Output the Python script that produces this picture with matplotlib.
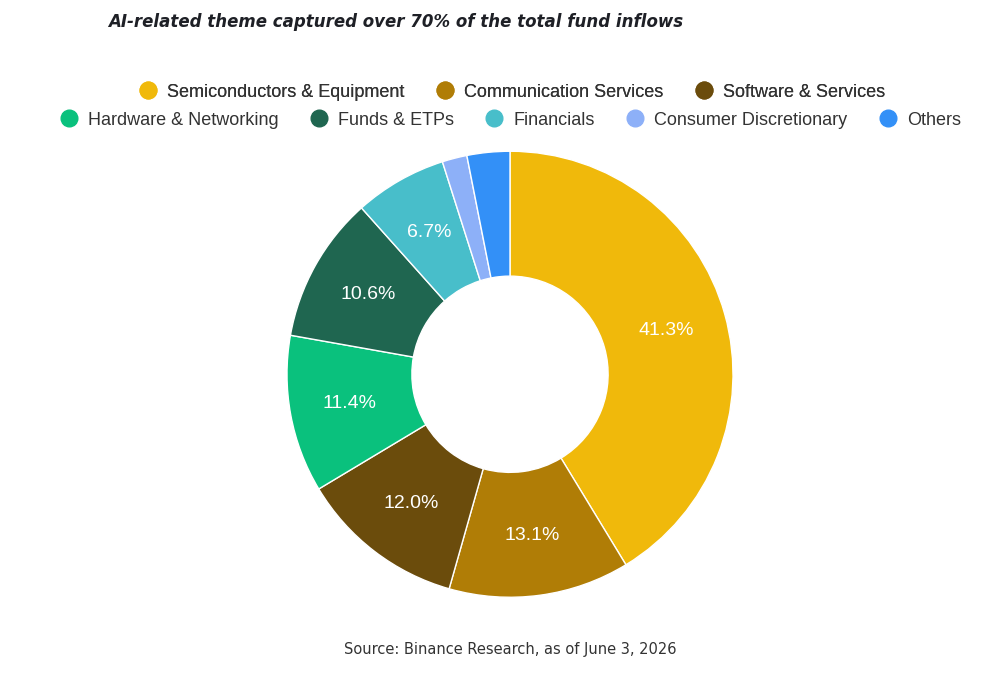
import numpy as np
import matplotlib.pyplot as plt

labels = ["Semiconductors & Equipment", "Communication Services", "Software & Services",
          "Hardware & Networking", "Funds & ETPs", "Financials",
          "Consumer Discretionary", "Others"]
values = [41.3, 13.1, 12.0, 11.4, 10.6, 6.7, 1.8, 3.1]
colors = ["#F0B90B", "#B07D06", "#6B4C0C", "#0AC17D", "#1F6650", "#48BECA",
          "#8DB0F8", "#3390F7"]

plt.rcParams['font.family'] = ['Liberation Sans', 'DejaVu Sans']

fig = plt.figure(figsize=(10, 6.78), dpi=100)
ax = fig.add_axes([0.287, 0.119, 0.446, 0.658])

wedges, _ = ax.pie(values, colors=colors, startangle=90, counterclock=False, radius=1,
                   wedgeprops=dict(width=0.56, edgecolor="white", linewidth=1))
ax.set_xlim(-1, 1)
ax.set_ylim(-1, 1)
ax.set_aspect("equal")

total = sum(values)
ang = 90.0
for v in values:
    mid = ang - v / total * 180
    ang -= v / total * 360
    if v < 5:
        continue
    r = 0.73
    ax.text(r * np.cos(np.radians(mid)), r * np.sin(np.radians(mid)), f"{v:.1f}%",
            ha="center", va="center", color="white", fontsize=14)

fig.text(0.108, 0.968, "AI-related theme captured over 70% of the total fund inflows",
         fontsize=12, fontweight="bold", style="italic", color="#1E2026", va="center",
         family="DejaVu Sans")

handles = [plt.Line2D([], [], marker="o", linestyle="", markersize=12, color=c) for c in colors]
leg1 = fig.legend(handles[:3], labels[:3], loc="center", bbox_to_anchor=(0.51, 0.864), ncol=3,
                  frameon=False, fontsize=13, handletextpad=0.3, columnspacing=1.5,
                  handlelength=1.5)
leg2 = fig.legend(handles[3:], labels[3:], loc="center", bbox_to_anchor=(0.508, 0.823), ncol=5,
                  frameon=False, fontsize=13, handletextpad=0.3, columnspacing=1.5,
                  handlelength=1.5)
fig.add_artist(leg1)
for leg in (leg1, leg2):
    for t in leg.get_texts():
        t.set_color("#333333")

fig.text(0.51, 0.035, "Source: Binance Research, as of June 3, 2026", ha="center",
         fontsize=10.5, color="#333333", family="DejaVu Sans")

fig.savefig("out.png", dpi=100, facecolor="white")
